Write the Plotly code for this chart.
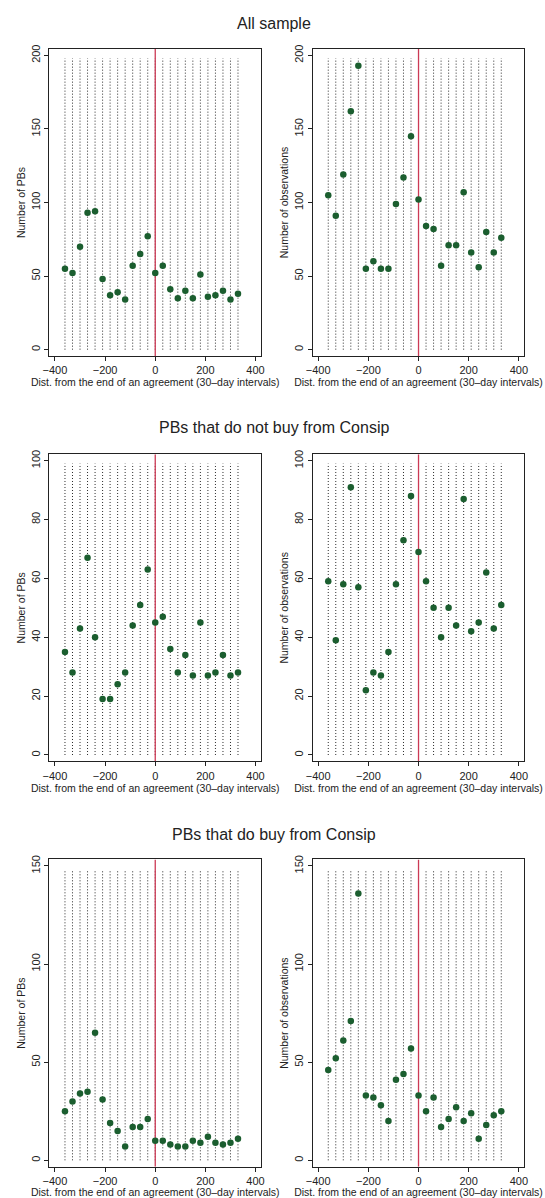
import plotly.graph_objects as go

# ---------------- data ----------------
dist = [-360, -330, -300, -270, -240, -210, -180, -150, -120, -90, -60, -30,
        0, 30, 60, 90, 120, 150, 180, 210, 240, 270, 300, 330]

all_pbs = [55, 52, 70, 93, 94, 48, 37, 39, 34, 57, 65, 77,
           52, 57, 41, 35, 40, 35, 51, 36, 37, 40, 34, 38]
all_obs = [105, 91, 119, 162, 193, 55, 60, 55, 55, 99, 117, 145,
           102, 84, 82, 57, 71, 71, 107, 66, 56, 80, 66, 76]

nobuy_pbs = [35, 28, 43, 67, 40, 19, 19, 24, 28, 44, 51, 63,
             45, 47, 36, 28, 34, 27, 45, 27, 28, 34, 27, 28]
nobuy_obs = [59, 39, 58, 91, 57, 22, 28, 27, 35, 58, 73, 88,
             69, 59, 50, 40, 50, 44, 87, 42, 45, 62, 43, 51]

buy_pbs = [25, 30, 34, 35, 65, 31, 19, 15, 7, 17, 17, 21,
           10, 10, 8, 7, 7, 10, 9, 12, 9, 8, 9, 11]
buy_obs = [46, 52, 61, 71, 136, 33, 32, 28, 20, 41, 44, 57,
           33, 25, 32, 17, 21, 27, 20, 24, 11, 18, 23, 25]

section_titles = ["All sample", "PBs that do not buy from Consip", "PBs that do buy from Consip"]
ytitle_left = "Number of PBs"
ytitle_right = "Number of observations"
xtitle = "Dist. from the end of an agreement (30\u2013day intervals)"
x_ticks = [-400, -200, 0, 200, 400]
y_ticks = [[0, 50, 100, 150, 200], [0, 20, 40, 60, 80, 100], [0, 50, 100, 150]]
dot_tops = [198, 99, 148]
ref_x = 0

panels = [(all_pbs, all_obs), (nobuy_pbs, nobuy_obs), (buy_pbs, buy_obs)]

# ---------------- layout geometry ----------------
W, H = 545, 1198
xdoms = [(43.3 / W, 259.3 / W), (312 / W, 528 / W)]
ydoms_px = [(45, 353.3), (451.7, 760), (858.3, 1166.7)]
ydoms = [(1 - b / H, 1 - t / H) for (t, b) in ydoms_px]
title_y_px = [20, 425, 833]

GREEN = "#1b5e2f"
RED = "#cc3a55"
FONT = "Liberation Sans, Arial, sans-serif"

fig = go.Figure()
layout = dict(
    width=W, height=H,
    margin=dict(l=0, r=0, t=0, b=0),
    paper_bgcolor="white", plot_bgcolor="white",
    showlegend=False,
    font=dict(family=FONT, color="#222222"),
    annotations=[],
)

idx = 0
for row, (left_vals, right_vals) in enumerate(panels):
    ticks = y_ticks[row]
    ymax = ticks[-1]
    pad = ymax * 0.022
    yrange = [-pad, ymax + pad]
    for col, vals in enumerate([left_vals, right_vals]):
        idx += 1
        xa = "x" if idx == 1 else f"x{idx}"
        ya = "y" if idx == 1 else f"y{idx}"
        xkey = "xaxis" if idx == 1 else f"xaxis{idx}"
        ykey = "yaxis" if idx == 1 else f"yaxis{idx}"

        # dotted vertical guide lines at each interval
        lx, ly = [], []
        for d in dist:
            lx += [d, d, None]
            ly += [0, dot_tops[row], None]
        fig.add_trace(go.Scatter(
            x=lx, y=ly, mode="lines", xaxis=xa, yaxis=ya,
            line=dict(color="#2a2a2a", width=1, dash="1px,2px"),
            hoverinfo="skip"))
        # red reference line at the end of the agreement
        fig.add_trace(go.Scatter(
            x=[ref_x, ref_x], y=yrange, mode="lines", xaxis=xa, yaxis=ya,
            line=dict(color=RED, width=1.3), hoverinfo="skip"))
        # markers
        fig.add_trace(go.Scatter(
            x=dist, y=vals, mode="markers", xaxis=xa, yaxis=ya,
            marker=dict(color=GREEN, size=6.5, line=dict(width=0))))

        layout[xkey] = dict(
            domain=list(xdoms[col]), anchor=ya, range=[-422, 422],
            tickvals=x_ticks, ticks="outside", ticklen=4, tickcolor="#222",
            tickfont=dict(size=11, family=FONT, color="#222"),
            showline=True, linecolor="#222", linewidth=1, mirror=True,
            showgrid=False, zeroline=False,
            title=dict(text=xtitle, font=dict(size=10.5, family=FONT, color="#222"), standoff=1),
        )
        layout[ykey] = dict(
            domain=list(ydoms[row]), anchor=xa, range=yrange,
            tickvals=ticks, ticks="outside", ticklen=4, tickcolor="#222",
            tickangle=-90,
            tickfont=dict(size=11, family=FONT, color="#222"),
            showline=True, linecolor="#222", linewidth=1, mirror=True,
            showgrid=False, zeroline=False,
            title=dict(text=ytitle_left if col == 0 else ytitle_right,
                       font=dict(size=10.5, family=FONT, color="#222"), standoff=2),
        )

    layout["annotations"].append(dict(
        text=section_titles[row], xref="paper", yref="paper",
        x=0.5, y=1 - title_y_px[row] / H, xanchor="center", yanchor="middle",
        showarrow=False, font=dict(size=16, family=FONT, color="#222")))

fig.update_layout(**layout)
fig.write_html("out.html")
